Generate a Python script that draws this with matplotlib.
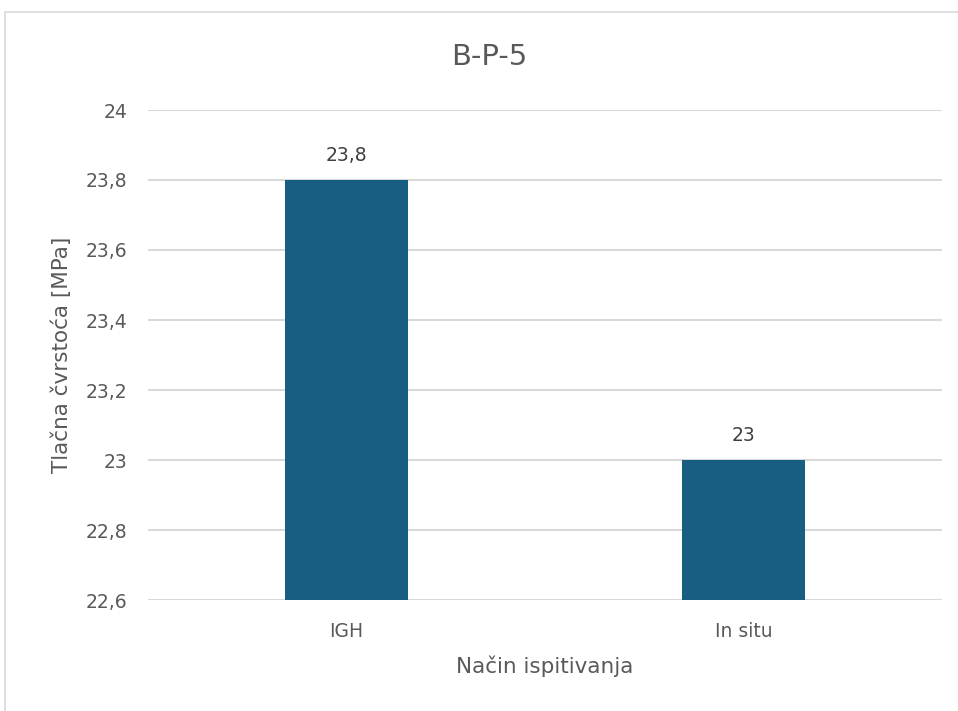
import matplotlib
matplotlib.use("Agg")
import matplotlib.pyplot as plt
from matplotlib.patches import Rectangle
from matplotlib.ticker import FuncFormatter

categories = ["IGH", "In situ"]
values = [23.8, 23.0]
yticks = [22.6, 22.8, 23.0, 23.2, 23.4, 23.6, 23.8, 24.0]
title = "B-P-5"
xlabel = "Način ispitivanja"
ylabel = "Tlačna čvrstoća [MPa]"

plt.rcParams['font.family'] = ['DejaVu Sans']
txt = '#595959'
W, H = 958, 711
fig = plt.figure(figsize=(W / 100, H / 100), dpi=100)
ax = fig.add_axes([148 / W, 1 - 600 / H, (942 - 148) / W, (600 - 110) / H])

def fmt(v):
    s = ('%.1f' % v).rstrip('0').rstrip('.')
    return s.replace('.', ',')

x = range(len(categories))
bars = ax.bar(x, values, width=0.312, color='#175e82', zorder=3)
ax.set_xlim(-0.5, len(categories) - 0.5)
ax.set_ylim(22.6, 24.0)
ax.set_yticks(yticks)
ax.yaxis.set_major_formatter(FuncFormatter(lambda v, p: fmt(v)))
ax.set_xticks(list(x))
ax.set_xticklabels(categories)
for b, v in zip(bars, values):
    ax.annotate(fmt(v), (b.get_x() + b.get_width() / 2, v), xytext=(0, 11),
                textcoords='offset points', ha='center', va='bottom',
                fontsize=13.5, color='#404040')

ax.grid(axis='y', color='#d9d9d9', linewidth=1.5, zorder=0)
for s in ax.spines.values():
    s.set_visible(False)
ax.tick_params(axis='both', length=0, labelsize=13.5, colors=txt)
ax.tick_params(axis='y', pad=15)
ax.tick_params(axis='x', pad=16)
ax.set_xlabel(xlabel, fontsize=15.5, color=txt, labelpad=10)
ax.set_ylabel(ylabel, fontsize=15.5, color=txt, labelpad=10)
fig.text(489 / W, 1 - 57 / H, title, ha='center', va='center', fontsize=21, color=txt)

fig.patches.append(Rectangle((5 / W, -0.1), 1.2, 1 - 12 / H + 0.1, transform=fig.transFigure,
                             fill=False, edgecolor='#d9d9d9', linewidth=1.2))
fig.savefig('out.png', dpi=100, facecolor='white')
